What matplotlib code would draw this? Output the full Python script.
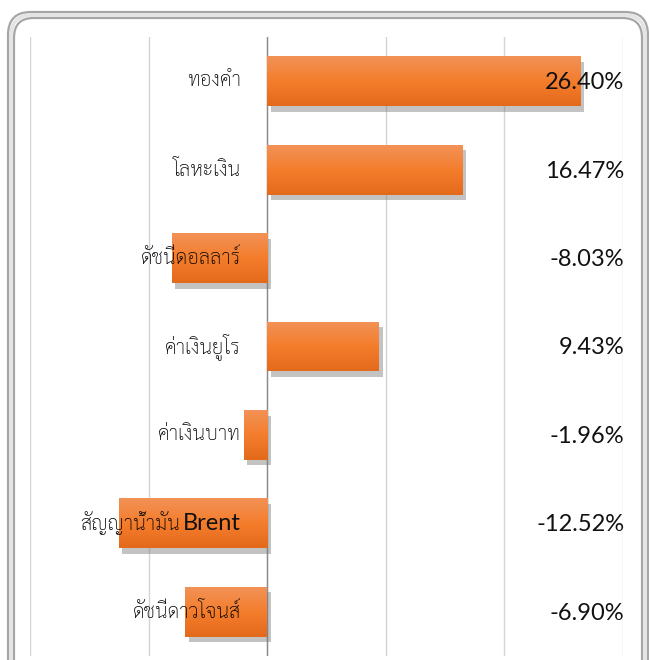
import numpy as np
import matplotlib
matplotlib.use("Agg")
import matplotlib.pyplot as plt
import matplotlib.patheffects as pe
from matplotlib.patches import FancyBboxPatch
from matplotlib.colors import LinearSegmentedColormap

# data (percent change)
categories = ["ทองคำ", "โลหะเงิน", "ดัชนีดอลลาร์", "ค่าเงินยูโร",
              "ค่าเงินบาท", "สัญญาน้ำมัน Brent", "ดัชนีดาวโจนส์"]
values = [26.40, 16.47, -8.03, 9.43, -1.96, -12.52, -6.90]
value_labels = ["26.40%", "16.47%", "-8.03%", "9.43%", "-1.96%", "-12.52%", "-6.90%"]

fig = plt.figure(figsize=(6.49, 6.60), dpi=100)

# rounded double frame
mid = FancyBboxPatch((11 / 649, -0.05), 634 / 649, 1 - 15 / 660 + 0.05,
                     boxstyle="round,pad=0,rounding_size=0.032",
                     transform=fig.transFigure, fill=False,
                     ec="#e4e4e4", lw=2.5)
outer = FancyBboxPatch((8 / 649, -0.05), 640 / 649, 1 - 12 / 660 + 0.05,
                       boxstyle="round,pad=0,rounding_size=0.035",
                       transform=fig.transFigure, fill=False,
                       ec="#a6a6a6", lw=1.6)
inner = FancyBboxPatch((14 / 649, -0.05), 628 / 649, 1 - 18 / 660 + 0.05,
                       boxstyle="round,pad=0,rounding_size=0.03",
                       transform=fig.transFigure, fill=False,
                       ec="#a6a6a6", lw=1.6)
for p in (mid, outer, inner):
    fig.patches.append(p)

ax = fig.add_axes([30 / 649, 1 - 656 / 660, 593 / 649, 619 / 660])
ax.set_xticks(np.arange(-20, 31, 10))
ax.grid(axis="x", color="#d4d4d4", lw=1.0)
ax.set_axisbelow(True)
ax.tick_params(left=False, bottom=False, labelleft=False, labelbottom=False)
for s in ax.spines.values():
    s.set_visible(False)
ax.patch.set_alpha(0)
ax.axvline(0, color="#8c8c8c", lw=1.0, zorder=1)

y = np.arange(len(categories))
bars = ax.barh(y, values, height=0.565, color="#f07a2a", zorder=2,
               path_effects=[pe.SimplePatchShadow(offset=(2.5, -4), shadow_rgbFace="#7a7a7a", alpha=0.45),
                             pe.Normal()])

# vertical orange gradient on each bar
cmap = LinearSegmentedColormap.from_list("org", ["#f29257", "#f47d2c", "#e46a1b"])
grad = np.linspace(0, 1, 64).reshape(-1, 1)
for b in bars:
    x0, y0, w, h = b.get_x(), b.get_y(), b.get_width(), b.get_height()
    im = ax.imshow(grad, cmap=cmap, aspect="auto", zorder=2.5,
                   extent=(x0, x0 + w, y0 + h, y0), interpolation="bicubic")
    im.set_clip_path(b)
ax.set_xlim(-20, 30)
ax.set_ylim(len(categories) - 0.5, -0.5)

for i, (cat, lab) in enumerate(zip(categories, value_labels)):
    head, _, tail = cat.rpartition(" ")
    if head and tail.isascii():
        # latin word drawn larger, like the original
        ax.annotate(tail, xy=(0, i), xytext=(-19, 0), textcoords="offset points",
                    ha="right", va="center", fontsize=17, color="#111111",
                    family=["Lato"], zorder=5)
        ax.annotate(head, xy=(0, i), xytext=(-63, 0), textcoords="offset points",
                    ha="right", va="center", fontsize=14.5, color="#000000",
                    family=["Sarabun"], fontweight="light", zorder=5)
    else:
        ax.annotate(cat, xy=(0, i), xytext=(-19, 0), textcoords="offset points",
                    ha="right", va="center", fontsize=14.5, color="#000000",
                    family=["Sarabun"], fontweight="light", zorder=5)
    ax.annotate(lab, xy=(30, i), xytext=(1, -1), textcoords="offset points",
                ha="right", va="center", fontsize=17, color="#111111",
                family=["Lato"], zorder=5)

fig.savefig("out.png", dpi=100)
